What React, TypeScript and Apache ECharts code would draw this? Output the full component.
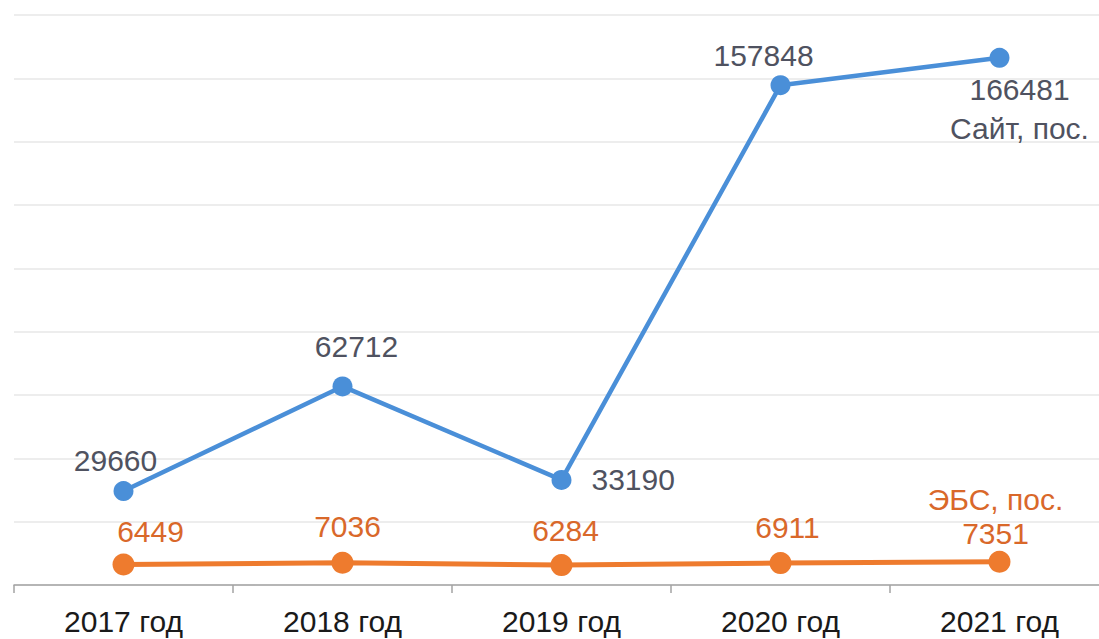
import React, { useEffect, useRef } from "react";
import * as echarts from "echarts";

const categories = ["2017 год", "2018 год", "2019 год", "2020 год", "2021 год"];
const siteVisits = [29660, 62712, 33190, 157848, 166481];
const ebsVisits = [6449, 7036, 6284, 6911, 7351];
const siteName = "Сайт, пос.";
const ebsName = "ЭБС, пос.";

const BLUE = "#4a8fd8";
const ORANGE = "#ee7b2e";
const FONT = "Liberation Sans, Arial, sans-serif";

// label placement tweaks per point (position, distance, offset)
const siteLabelPos = ["top", "top", "right", "top", "bottom"];
const siteLabelDist = [3, 12, 20, 2, 2];
const siteLabelOffset = [[-8, 0], [14, 0], [0, 0], [-17, 0], [20, 0]];
const ebsLabelDist = [4, 7, 6, 7, 0];
const ebsLabelOffset = [[27, 0], [5, 0], [4, 0], [7, 0], [-4, 0]];

export default function App() {
  const ref = useRef<HTMLDivElement>(null);
  useEffect(() => {
    if (!ref.current) return;
    const chart = echarts.init(ref.current, undefined, { renderer: "svg" });
    const last = categories.length - 1;
    chart.setOption({
      animation: false,
      backgroundColor: "#ffffff",
      grid: { left: 14, right: 1, top: 15, bottom: 54, containLabel: false },
      xAxis: {
        type: "category",
        data: categories,
        boundaryGap: true,
        axisLine: { lineStyle: { color: "#a3a3a3", width: 1.5 } },
        axisTick: { show: true, length: 8, lineStyle: { color: "#a3a3a3", width: 1.5 } },
        axisLabel: { color: "#1a1a1a", fontSize: 30, fontFamily: FONT, margin: 21 },
      },
      yAxis: {
        type: "value",
        min: 0,
        max: 180000,
        interval: 20000,
        axisLabel: { show: false },
        axisLine: { show: false },
        axisTick: { show: false },
        splitLine: { lineStyle: { color: "#ededed", width: 2 } },
      },
      series: [
        {
          name: siteName,
          type: "line",
          data: siteVisits.map((v, i) => ({
            value: v,
            label: {
              position: siteLabelPos[i],
              distance: siteLabelDist[i],
              formatter: i === last ? `{c}\n${siteName}` : "{c}",
              offset: siteLabelOffset[i],
              lineHeight: i === last ? 39 : 36,
            },
          })),
          symbol: "circle",
          symbolSize: 20,
          lineStyle: { color: BLUE, width: 4.5 },
          itemStyle: { color: BLUE },
          label: {
            show: true,
            color: "#4f5260",
            fontSize: 30,
            fontFamily: FONT,
            lineHeight: 36,
          },
        },
        {
          name: ebsName,
          type: "line",
          data: ebsVisits.map((v, i) => ({
            value: v,
            label: {
              distance: ebsLabelDist[i],
              offset: ebsLabelOffset[i],
              formatter: i === last ? `${ebsName}\n{c}` : "{c}",
              lineHeight: i === last ? 34 : 36,
            },
          })),
          symbol: "circle",
          symbolSize: 22,
          lineStyle: { color: ORANGE, width: 5 },
          itemStyle: { color: ORANGE },
          label: {
            show: true,
            position: "top",
            color: "#d9682a",
            fontSize: 30,
            fontFamily: FONT,
            lineHeight: 36,
          },
        },
      ],
    });
    return () => chart.dispose();
  }, []);
  return (
    <div
      style={{
        position: "fixed",
        left: 0,
        top: 0,
        width: 1099,
        height: 639,
        overflow: "hidden",
        background: "#ffffff",
      }}
    >
      <div ref={ref} style={{ width: 1110, height: 639 }} />
    </div>
  );
}
